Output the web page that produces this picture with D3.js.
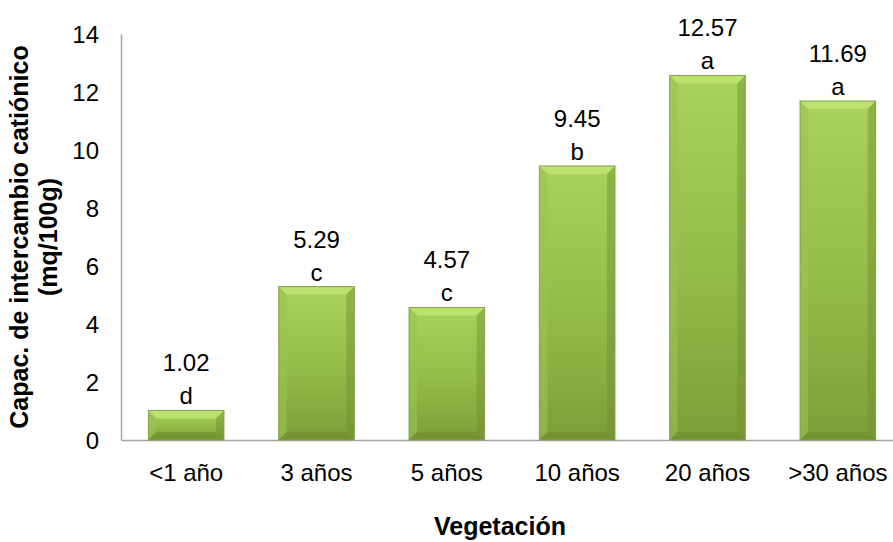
<!DOCTYPE html>
<html>
<head>
<meta charset="utf-8">
<script src="https://cdn.jsdelivr.net/npm/d3@7"></script>
<style>
  html, body { margin: 0; padding: 0; background: #fff; }
  svg text { font-family: "Liberation Sans", Arial, sans-serif; fill: #000; }
</style>
</head>
<body>
<svg id="chart" width="893" height="542"></svg>
<script>
// Capacidad de intercambio catiónico por edad de la vegetación
const categories = ["<1 año", "3 años", "5 años", "10 años", "20 años", ">30 años"];
const values = [1.02, 5.29, 4.57, 9.45, 12.57, 11.69];
const letters = ["d", "c", "c", "b", "a", "a"];
const yTicks = [0, 2, 4, 6, 8, 10, 12, 14];

const svg = d3.select("#chart");
const W = 893, H = 542;
const m = { left: 121, top: 34, right: -10, bottom: 102 };

const x = d3.scaleBand()
  .domain(categories)
  .range([m.left, W - m.right])
  .paddingInner(0.42)
  .paddingOuter(0.21);

const y = d3.scaleLinear()
  .domain([0, 14])
  .range([H - m.bottom, m.top]);

// bar gradient
const defs = svg.append("defs");
const g1 = defs.append("linearGradient").attr("id", "barFill")
  .attr("x1", 0).attr("y1", 0).attr("x2", 0).attr("y2", 1);
g1.append("stop").attr("offset", "0%").attr("stop-color", "#a9d35c");
g1.append("stop").attr("offset", "55%").attr("stop-color", "#93bb48");
g1.append("stop").attr("offset", "100%").attr("stop-color", "#7d9e38");

// axes
const yAxis = d3.axisLeft(y).tickValues(yTicks).tickSize(0).tickPadding(22).tickFormat(d3.format("d"));
const yg = svg.append("g").attr("transform", `translate(${m.left},0)`).call(yAxis);
yg.select(".domain").attr("stroke", "#a6a6a6").attr("stroke-width", 1.5);
yg.selectAll("text").style("font-size", "24px").attr("dy", "0.35em");

const xAxis = d3.axisBottom(x).tickSize(0).tickPadding(24);
const xg = svg.append("g").attr("transform", `translate(0,${y(0)})`).call(xAxis);
xg.select(".domain").attr("stroke", "#a6a6a6").attr("stroke-width", 1.5);
xg.selectAll("text").style("font-size", "24px");

// bars with bevelled edges
const bev = 8;
const bars = svg.append("g").selectAll("g.bar")
  .data(categories.map((c, i) => ({ c, v: values[i], l: letters[i] })))
  .join("g").attr("class", "bar");

bars.each(function (d) {
  const g = d3.select(this);
  const x0 = x(d.c), w = x.bandwidth();
  const y0 = y(d.v), y1 = y(0);
  const h = y1 - y0;
  const b = Math.min(bev, h / 2);
  g.append("rect").attr("x", x0).attr("y", y0).attr("width", w).attr("height", h)
    .attr("fill", "url(#barFill)");
  // top bevel
  g.append("polygon")
    .attr("points", [[x0, y0], [x0 + w, y0], [x0 + w - b, y0 + b], [x0 + b, y0 + b]].join(" "))
    .attr("fill", "#bce373").attr("opacity", 0.9);
  // left bevel
  g.append("polygon")
    .attr("points", [[x0, y0], [x0 + b, y0 + b], [x0 + b, y1 - b], [x0, y1]].join(" "))
    .attr("fill", "#9cc251").attr("opacity", 0.6);
  // right bevel
  g.append("polygon")
    .attr("points", [[x0 + w, y0], [x0 + w - b, y0 + b], [x0 + w - b, y1 - b], [x0 + w, y1]].join(" "))
    .attr("fill", "#6f8f30").attr("opacity", 0.45);
  // bottom bevel
  g.append("polygon")
    .attr("points", [[x0, y1], [x0 + b, y1 - b], [x0 + w - b, y1 - b], [x0 + w, y1]].join(" "))
    .attr("fill", "#6a8a2c").attr("opacity", 0.55);
  g.append("rect").attr("x", x0).attr("y", y0).attr("width", w).attr("height", h)
    .attr("fill", "none").attr("stroke", "#86a04e").attr("stroke-width", 1);

  // value and significance letter
  g.append("text").attr("x", x0 + w / 2).attr("y", y0 - 39)
    .attr("text-anchor", "middle").style("font-size", "24px").text(d.v.toFixed(2));
  g.append("text").attr("x", x0 + w / 2).attr("y", y0 - 6)
    .attr("text-anchor", "middle").style("font-size", "24px").text(d.l);
});

// axis titles
svg.append("text").attr("x", 500).attr("y", 535).attr("text-anchor", "middle")
  .style("font-size", "25px").style("font-weight", "bold").text("Vegetación");

const yt = svg.append("text").attr("transform", "translate(0,237) rotate(-90)")
  .attr("text-anchor", "middle").style("font-size", "25px").style("font-weight", "bold");
yt.append("tspan").attr("x", 0).attr("y", 28).text("Capac. de intercambio catiónico");
yt.append("tspan").attr("x", 0).attr("y", 57).text("(mq/100g)");
</script>
</body>
</html>
